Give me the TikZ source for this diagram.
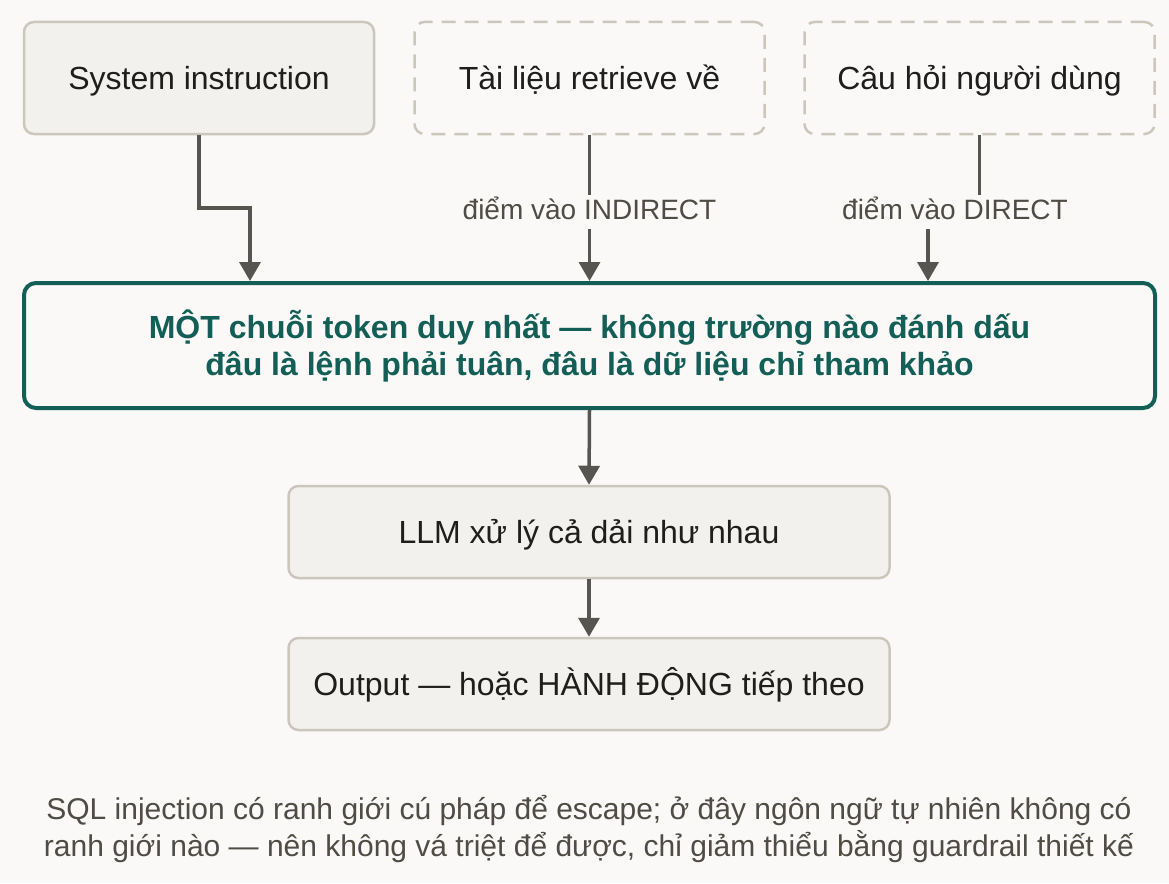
\documentclass[tikz,border=0pt]{standalone}
\usepackage{fontspec}
\setmainfont{Liberation Sans}
\usepackage{xcolor}
\usetikzlibrary{arrows.meta,positioning,calc}
\definecolor{bgcol}{HTML}{FAF9F7}
\definecolor{boxfill}{HTML}{F2F1ED}
\definecolor{boxline}{HTML}{CCC7BD}
\definecolor{inkcol}{HTML}{1E1E1C}
\definecolor{arrowcol}{HTML}{57554F}
\definecolor{lblcol}{HTML}{4F4C46}
\definecolor{tealcol}{HTML}{135E56}

\begin{document}
\begin{tikzpicture}[x=1pt,y=-1pt,
  box/.style={draw=boxline,fill=boxfill,line width=2.5pt,rounded corners=10pt,text=inkcol,font=\fontsize{32}{38}\selectfont,text height=23pt,text depth=0pt},
  srcbox/.style={draw=boxline,line width=2.5pt,dash pattern=on 14pt off 9pt,rounded corners=10pt,text=inkcol,font=\fontsize{32}{38}\selectfont,text height=23pt,text depth=0pt,minimum width=350pt,minimum height=112pt},
  mainbox/.style={draw=tealcol,line width=4pt,rounded corners=12pt,text=tealcol,align=center,font=\bfseries\fontsize{32}{37}\selectfont},
  flow/.style={draw=arrowcol,line width=3.5pt,-{Triangle[width=21pt,length=19pt]}},
  lbl/.style={fill=bgcol,text=lblcol,font=\fontsize{28}{34}\selectfont,text height=20pt,text depth=6pt,inner ysep=4pt,inner xsep=2pt}]
\fill[bgcol] (0,0) rectangle (1169,883);

% Sources
\node[box,minimum width=350pt,minimum height=112pt] (sys) at (199,78) {System instruction};
\node[srcbox] (doc) at (589.5,78) {Tài liệu retrieve về};
\node[srcbox] (ques) at (979.5,78) {Câu hỏi người dùng};

% Token stream and model
\node[mainbox,minimum width=1131pt,minimum height=125pt] (seq) at (589.5,345.5) {MỘT chuỗi token duy nhất — không trường nào đánh dấu\\đâu là lệnh phải tuân, đâu là dữ liệu chỉ tham khảo};
\node[box,minimum width=601pt,minimum height=92pt] (llm) at (589,532) {LLM xử lý cả dải như nhau};
\node[box,minimum width=601pt,minimum height=92pt] (out) at (589,684) {Output — hoặc HÀNH ĐỘNG tiếp theo};

\node[text=lblcol,align=center,font=\fontsize{30}{37}\selectfont] (note) at (589,829) {SQL injection có ranh giới cú pháp để escape; ở đây ngôn ngữ tự nhiên không có\\ranh giới nào — nên không vá triệt để được, chỉ giảm thiểu bằng guardrail thiết kế};

\coordinate (sysjoin) at (250,208);
\coordinate (qjoin) at (928,208);
\draw[flow] (sys.south) |- (sysjoin) -- (sysjoin |- seq.north);
\draw[flow] (doc.south) -- (doc.south |- seq.north) node[lbl,pos=0.5,yshift=-4pt] (doclbl) {điểm vào INDIRECT};
\draw[flow] (ques.south) |- (qjoin) -- (qjoin |- seq.north);
\node[lbl] (queslbl) at (955,212) {điểm vào DIRECT};
\draw[flow] (seq.south) -- (llm.north);
\draw[flow] (llm) -- (out);
\end{tikzpicture}
\end{document}
